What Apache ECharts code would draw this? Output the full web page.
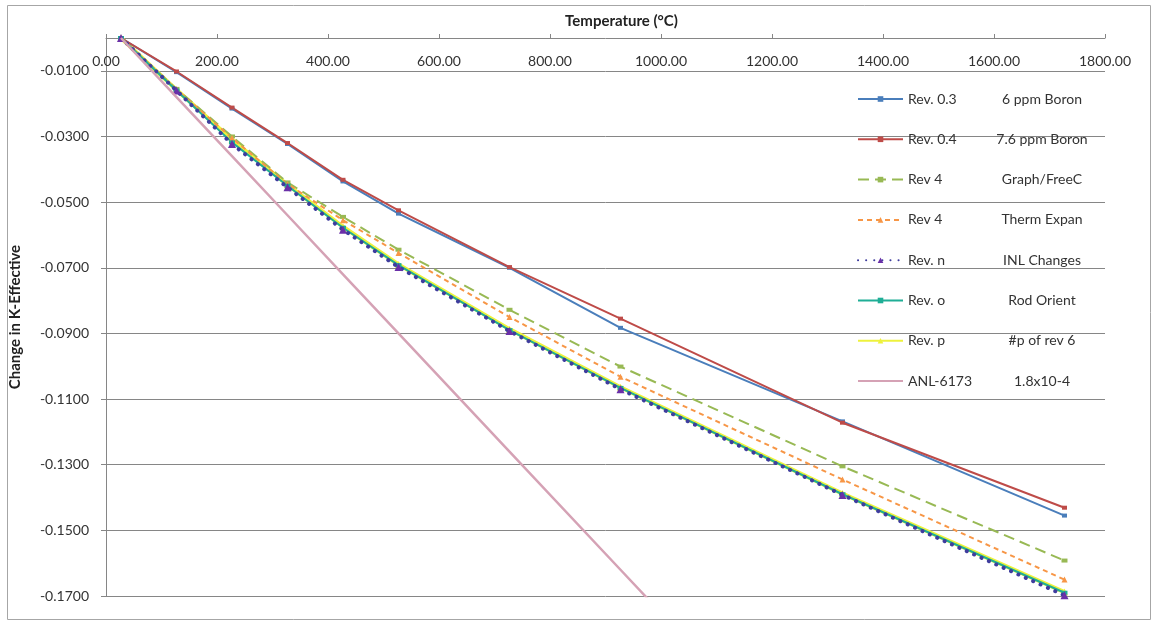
<!DOCTYPE html>
<html>
<head>
<meta charset="utf-8">
<script src="https://cdn.jsdelivr.net/npm/echarts@6/dist/echarts.min.js"></script>
<style>
html,body{margin:0;padding:0;background:#fff;}
#c{width:1154px;height:621px;}
</style>
</head>
<body>
<div id="c"></div>
<script>
const temps = [27, 127, 227, 327, 427, 527, 727, 927, 1327, 1727];
const rev03 = [0, -0.0104, -0.0215, -0.0323, -0.0437, -0.0535, -0.0700, -0.0883, -0.1168, -0.1455];
const rev04 = [0, -0.0102, -0.0212, -0.0320, -0.0432, -0.0525, -0.0698, -0.0855, -0.1172, -0.1431];
const rev4g = [0, -0.0155, -0.0300, -0.0440, -0.0545, -0.0645, -0.0828, -0.1001, -0.1305, -0.1592];
const rev4t = [0, -0.0157, -0.0305, -0.0445, -0.0555, -0.0655, -0.0850, -0.1032, -0.1345, -0.1650];
const revn  = [0, -0.0160, -0.0323, -0.0455, -0.0584, -0.0698, -0.0893, -0.1070, -0.1392, -0.1698];
const revo  = [0, -0.0160, -0.0318, -0.0450, -0.0578, -0.0692, -0.0890, -0.1066, -0.1390, -0.1690];
const revp  = [0, -0.0158, -0.0310, -0.0447, -0.0575, -0.0690, -0.0887, -0.1064, -0.1388, -0.1688];
const anl   = [0, -0.018, -0.036, -0.054, -0.072, -0.090, -0.126, -0.162, -0.234, -0.306];

const revLabels  = ['Rev. 0.3', 'Rev. 0.4', 'Rev 4', 'Rev 4', 'Rev. n', 'Rev. o', 'Rev. p', 'ANL-6173'];
const descLabels = ['6 ppm Boron', '7.6 ppm Boron', 'Graph/FreeC', 'Therm Expan', 'INL Changes', 'Rod Orient', '#p of rev 6', '1.8x10-4'];
const yTicks = [-0.01, -0.03, -0.05, -0.07, -0.09, -0.11, -0.13, -0.15, -0.17];
const xTitle = 'Temperature (°C)';
const yTitle = 'Change in K-Effective';

const FONT = 'Lato';
const names = revLabels.map((r, i) => r + ' ' + descLabels[i]);
const pairs = v => temps.map((t, i) => [t, v[i]]);

const styles = [
  {color: '#4a7ebb', type: 'solid', width: 2, symbol: 'rect', size: [5, 4], z: 3},
  {color: '#be4b48', type: 'solid', width: 2, symbol: 'rect', size: [5, 4], z: 3},
  {color: '#98b954', type: [11, 6], width: 2, symbol: 'rect', size: [6, 4], z: 3},
  {color: '#f79646', type: [5, 4], width: 2, symbol: 'triangle', size: 6, z: 3},
  {color: '#3f3d9e', type: [0.1, 8], width: 4, symbol: 'triangle', size: 8, cap: 'round', symColor: '#6a30a8', z: 4},
  {color: '#1fae96', type: 'solid', width: 2, symbol: 'rect', size: [6, 4], z: 3},
  {color: '#eef23c', type: 'solid', width: 4, symbol: 'triangle', size: 7, z: 2},
  {color: '#d5a2b5', type: 'solid', width: 2.5, symbol: 'none', size: 0, z: 5}
];
const dataSets = [rev03, rev04, rev4g, rev4t, revn, revo, revp, anl];

const series = dataSets.map((d, i) => {
  const s = styles[i];
  return {
    name: names[i],
    type: 'line',
    data: pairs(d),
    symbol: s.symbol,
    symbolSize: s.size,
    showSymbol: s.symbol !== 'none',
    clip: true,
    z: s.z,
    animation: false,
    lineStyle: {color: s.color, type: s.type, width: s.width, cap: s.cap || 'butt'},
    itemStyle: {color: s.symColor || s.color, borderWidth: 0}
  };
});

const legendData = names.map((n, i) => i === 7 ? {name: n, itemStyle: {opacity: 0}} : {name: n});

const chart = echarts.init(document.getElementById('c'));
chart.setOption({
  animation: false,
  backgroundColor: '#fff',
  graphic: [{
    type: 'rect', left: 5, top: 3, shape: {width: 1143, height: 614},
    style: {fill: 'none', stroke: '#a6a6a6', lineWidth: 1}, silent: true, z: -10
  }],
  grid: {left: 102, top: 38, right: 49, bottom: 25, containLabel: false},
  legend: {
    orient: 'vertical',
    left: 852,
    top: 86,
    itemWidth: 45,
    itemHeight: 7,
    itemGap: 24.3,
    data: legendData,
    formatter: n => {
      const i = names.indexOf(n);
      return '{a|' + revLabels[i] + '}{b|' + descLabels[i] + '}';
    },
    textStyle: {
      fontFamily: FONT, fontSize: 14, color: '#333', lineHeight: 16,
      rich: {
        a: {width: 86, fontFamily: FONT, fontSize: 14, color: '#333', lineHeight: 16},
        b: {width: 96, align: 'center', fontFamily: FONT, fontSize: 14, color: '#333', lineHeight: 16}
      }
    }
  },
  xAxis: {
    type: 'value',
    position: 'top',
    min: 0, max: 1800, interval: 200,
    name: xTitle,
    nameLocation: 'middle',
    nameGap: 9,
    nameTextStyle: {fontFamily: FONT, fontSize: 15, fontWeight: 'bold', color: '#222', padding: [0, 0, 0, 32]},
    axisLine: {show: true, onZero: false, lineStyle: {color: '#868686', width: 1}},
    axisTick: {show: true, inside: false, length: 4, lineStyle: {color: '#868686'}},
    axisLabel: {inside: true, margin: 16, fontFamily: FONT, fontSize: 14, color: '#333',
      formatter: v => v.toFixed(2)},
    splitLine: {show: false}
  },
  yAxis: {
    type: 'value',
    min: -0.17, max: 0,
    name: yTitle,
    nameLocation: 'middle',
    nameGap: 83,
    nameRotate: 90,
    nameTextStyle: {fontFamily: FONT, fontSize: 15, fontWeight: 'bold', color: '#222'},
    axisLine: {show: true, onZero: false, lineStyle: {color: '#868686', width: 1}},
    axisTick: {show: true, length: 5, customValues: yTicks, lineStyle: {color: '#868686'}},
    axisLabel: {customValues: yTicks, margin: 17, fontFamily: FONT, fontSize: 14, color: '#333',
      formatter: v => v.toFixed(4)},
    splitLine: {show: true, lineStyle: {color: '#868686', width: 1}}
  },
  series: series
});
</script>
</body>
</html>
